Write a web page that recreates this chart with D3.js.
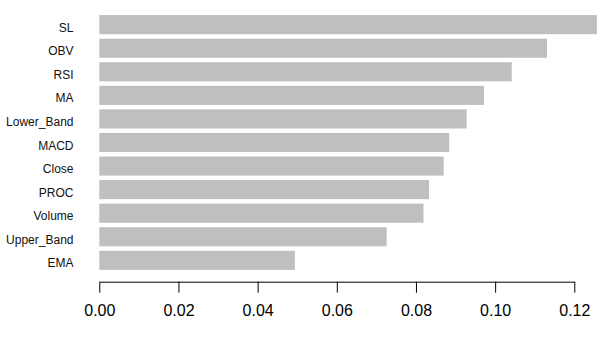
<!DOCTYPE html>
<html><head><meta charset="utf-8">
<script src="https://cdn.jsdelivr.net/npm/d3@7"></script>
<style>body{margin:0;background:#fff}</style>
</head><body>
<script>
const categories = ["SL","OBV","RSI","MA","Lower_Band","MACD","Close","PROC","Volume","Upper_Band","EMA"];
const values = [0.1257,0.1131,0.1042,0.0972,0.0928,0.0884,0.0870,0.0833,0.0819,0.0726,0.0494];
const tickValues = [0,0.02,0.04,0.06,0.08,0.10,0.12];

const W=602,H=345;
const svg=d3.select("body").append("svg").attr("width",W).attr("height",H);
const x=d3.scaleLinear().domain([0,0.12]).range([99.3,574.3]);
const y=d3.scaleBand().domain(categories).range([11.1,273.9]).paddingInner(0.19).paddingOuter(0.17);

svg.append("g").selectAll("rect").data(categories).join("rect")
  .attr("x",x(0)).attr("y",d=>y(d))
  .attr("width",(d,i)=>x(values[i])-x(0)).attr("height",y.bandwidth())
  .attr("fill","#bfbfbf");

svg.append("g").selectAll("text").data(categories).join("text")
  .attr("x",73.5).attr("y",d=>y(d)+y.bandwidth()/2+2.8).attr("dy","0.35em")
  .attr("text-anchor","end").attr("font-family","Liberation Sans, Arial, sans-serif")
  .attr("font-size",12).attr("fill","#111").text(d=>d);

const ax=svg.append("g").attr("transform","translate(0,281.7)")
  .call(d3.axisBottom(x).tickValues(tickValues).tickFormat(d3.format(".2f")).tickSize(11).tickPadding(12).tickSizeOuter(0));
ax.select(".domain").attr("stroke","#000");
ax.selectAll(".tick line").attr("stroke","#000");
ax.selectAll(".tick text").attr("font-family","Liberation Sans, Arial, sans-serif").attr("font-size",16).attr("fill","#000");
</script>
</body></html>
